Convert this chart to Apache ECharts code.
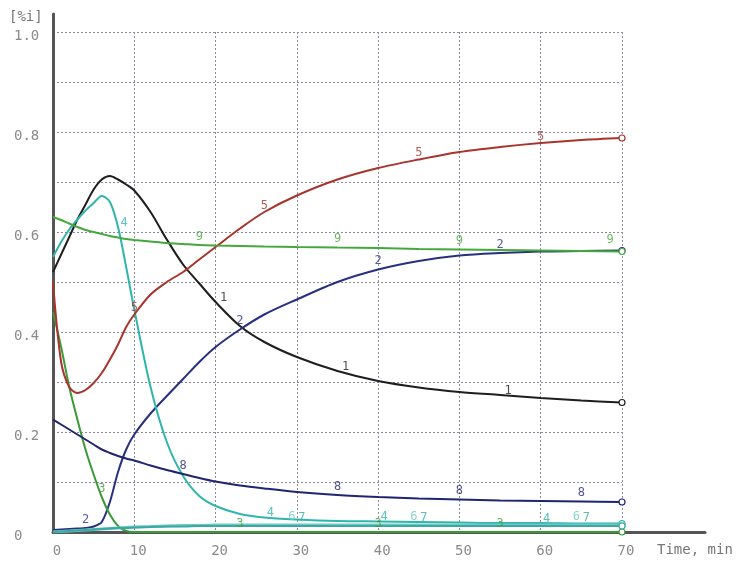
<!DOCTYPE html>
<html>
<head>
<meta charset="utf-8">
<script src="https://cdn.jsdelivr.net/npm/echarts@6/dist/echarts.min.js"></script>
<style>html,body{margin:0;padding:0;background:#fff}#c{width:749px;height:563px}</style>
</head>
<body>
<div id="c"></div>
<script>
const times = [0,1,2,3,4,5,6,7,8,9,10,12,14,16,18,20,23,26,30,35,40,45,50,55,60,65,70];
const xTicks = ['0','10','20','30','40','50','60','70'];
const yTicks = ['0','0.2','0.4','0.6','0.8','1.0'];

const curve1 = [0.52,0.555,0.59,0.625,0.655,0.685,0.705,0.712,0.705,0.695,0.683,0.64,0.585,0.535,0.497,0.46,0.412,0.38,0.35,0.322,0.302,0.289,0.28,0.274,0.268,0.263,0.259];
const curve2 = [0.004,0.005,0.006,0.007,0.008,0.011,0.02,0.06,0.12,0.165,0.195,0.237,0.272,0.306,0.34,0.37,0.405,0.435,0.465,0.5,0.525,0.542,0.553,0.558,0.561,0.562,0.563];
const curve3 = [0.44,0.37,0.29,0.225,0.165,0.115,0.07,0.035,0.012,0.002,0,0,0,0,0,0,0,0,0,0,0,0,0,0,0,0,0];
const curve4 = [0.55,0.58,0.605,0.625,0.643,0.658,0.672,0.66,0.61,0.53,0.445,0.29,0.18,0.112,0.072,0.052,0.036,0.029,0.025,0.022,0.021,0.02,0.019,0.018,0.018,0.017,0.017];
const curve5 = [0.50,0.34,0.29,0.278,0.284,0.298,0.318,0.345,0.375,0.41,0.435,0.475,0.50,0.52,0.545,0.57,0.607,0.64,0.673,0.705,0.728,0.745,0.76,0.77,0.778,0.784,0.788];
const curve6 = [0,0.001,0.002,0.003,0.004,0.005,0.006,0.007,0.008,0.009,0.01,0.011,0.012,0.013,0.013,0.014,0.014,0.014,0.014,0.014,0.014,0.014,0.014,0.014,0.014,0.014,0.014];
const curve7 = [0,0.001,0.002,0.003,0.004,0.005,0.006,0.007,0.008,0.008,0.009,0.01,0.011,0.011,0.012,0.012,0.012,0.012,0.012,0.012,0.012,0.012,0.012,0.012,0.012,0.012,0.012];
const curve8 = [0.225,0.215,0.205,0.195,0.185,0.175,0.165,0.158,0.152,0.147,0.143,0.133,0.124,0.116,0.108,0.101,0.093,0.087,0.08,0.074,0.07,0.067,0.065,0.063,0.062,0.061,0.06];
const curve9 = [0.63,0.624,0.617,0.61,0.604,0.6,0.596,0.592,0.589,0.586,0.584,0.581,0.578,0.576,0.574,0.573,0.572,0.571,0.57,0.569,0.568,0.566,0.565,0.564,0.563,0.562,0.561];

const seriesNames = ['1','2','3','4','5','6','7','8','9'];
const seriesValues = [curve1,curve2,curve3,curve4,curve5,curve6,curve7,curve8,curve9];
const seriesColors = ['#1e1e1e','#26307f','#3a9a35','#2fb5ad','#a8342c','#6cc9c4','#3aa9a3','#1f2570','#45a83c'];
const labelTimes = [
  [20,35,55],
  [4,23,40,55],
  [6,23,40,55],
  [8,26,40,60],
  [10,26,45,60],
  [30,45,65],
  [30,45,65],
  [16,35,50,65],
  [18,35,50,70]
];
const labelOffsets = [[8,4],[0,0],[0,0],[6,4],[0,2],[-5,0],[5,0],[0,0],[0,0]];

const FONT = 'DejaVu Sans Mono';

function buildSeries(k) {
  const color = seriesColors[k];
  const vals = seriesValues[k];
  const data = times.map((t, i) => {
    const item = { value: [t, vals[i]], symbol: 'none' };
    const hasLabel = labelTimes[k].indexOf(t) >= 0;
    if (t === 70) {
      item.symbol = 'circle';
      item.symbolSize = 6;
      item.itemStyle = { color: '#fff', borderColor: color, borderWidth: 1.2 };
    } else if (hasLabel) {
      item.symbol = 'circle';
      item.symbolSize = 1;
      item.itemStyle = { color: 'rgba(0,0,0,0)', borderWidth: 0 };
    }
    if (hasLabel) {
      item.label = {
        show: true, formatter: seriesNames[k], position: 'top', distance: 2,
        offset: t === 70 ? [-12, 0] : labelOffsets[k],
        color: color, fontFamily: FONT, fontSize: 12, opacity: 0.8
      };
    }
    return item;
  });
  return {
    name: seriesNames[k], type: 'line', xAxisIndex: 0, yAxisIndex: 0,
    data: data, smooth: 0.3, showSymbol: true, showAllSymbol: true,
    lineStyle: { color: color, width: k === 5 ? 3 : 2 },
    itemStyle: { color: color },
    emphasis: { disabled: true }, silent: true, z: 3
  };
}

const chart = echarts.init(document.getElementById('c'), null, { renderer: 'canvas' });
const labelStyle = { color: '#8a8a8a', fontFamily: FONT, fontSize: 14 };
chart.setOption({
  animation: false,
  backgroundColor: '#fff',
  title: [
    { text: '[%i]', left: 9, top: 10, padding: 0, textStyle: { color: '#777', fontFamily: FONT, fontSize: 14, fontWeight: 'normal' } },
    { text: 'Time, min', left: 657, top: 543, padding: 0, textStyle: { color: '#777', fontFamily: FONT, fontSize: 14, fontWeight: 'normal' } }
  ],
  grid: [
    { left: 53, top: 32, width: 569, height: 500 },
    { left: 53, top: 14, width: 652, height: 518 }
  ],
  xAxis: [
    {
      type: 'value', gridIndex: 0, min: 0, max: 70, interval: 10,
      axisLine: { show: false }, axisTick: { show: false },
      axisLabel: { ...labelStyle, margin: 12, padding: [0, 0, 0, 8], formatter: v => xTicks[Math.round(v / 10)] },
      splitLine: { show: true, lineStyle: { color: '#8a8a9a', type: [2, 2], width: 1 } }
    },
    {
      type: 'value', gridIndex: 1, min: 0, max: 80,
      axisLine: { show: true, onZero: false, lineStyle: { color: '#555', width: 3 } },
      axisTick: { show: false }, axisLabel: { show: false }, splitLine: { show: false }
    }
  ],
  yAxis: [
    {
      type: 'value', gridIndex: 0, min: 0, max: 1, interval: 0.1,
      axisLine: { show: false }, axisTick: { show: false },
      axisLabel: { ...labelStyle, margin: 39, align: 'left', verticalAlign: 'top', lineHeight: 8, formatter: v => {
        const n = Math.round(v * 10);
        return n % 2 === 0 ? yTicks[n / 2] : '';
      } },
      splitLine: { show: true, lineStyle: { color: '#8a8a9a', type: [2, 2], width: 1 } }
    },
    {
      type: 'value', gridIndex: 1, min: 0, max: 1,
      axisLine: { show: true, onZero: false, lineStyle: { color: '#555', width: 3 } },
      axisTick: { show: false }, axisLabel: { show: false }, splitLine: { show: false }
    }
  ],
  series: seriesNames.map((_, k) => buildSeries(k))
});
</script>
</body>
</html>
